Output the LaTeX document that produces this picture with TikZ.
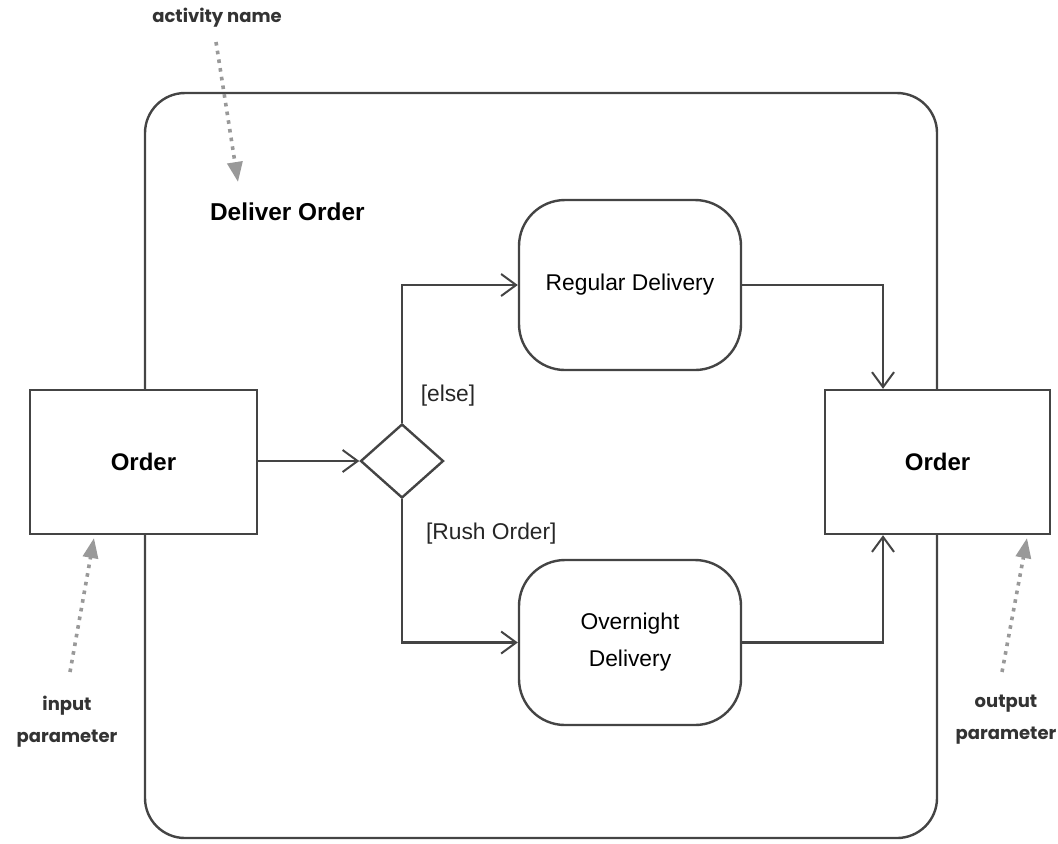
\documentclass[tikz,border=0pt]{standalone}
\usepackage{fontspec}
\setmainfont{Liberation Sans}
\newfontfamily\handfont{Poppins}
\usetikzlibrary{arrows.meta,shapes.geometric}
\definecolor{linec}{HTML}{444444}
\definecolor{notec}{HTML}{999999}
\tikzset{
  conn/.style={draw=linec, line width=1.2pt, -{Straight Barb[length=7.5pt,width=11pt,line width=1pt]}},
  box/.style={draw=linec, line width=1.2pt, fill=white, inner sep=0pt, font=\fontsize{12}{14}\selectfont\bfseries},
  actbox/.style={draw=linec, line width=1.2pt, fill=white, rounded corners=23pt, inner sep=0pt, minimum width=111pt, align=center, font=\fontsize{11.4}{18.5}\selectfont},
  decision/.style={draw=linec, line width=1.2pt, fill=white, diamond, inner sep=0pt, minimum width=41.5pt, minimum height=37pt},
  frame/.style={draw=linec, line width=1.2pt, rounded corners=20pt},
  guard/.style={font=\fontsize{11.4}{14}\selectfont, text=black!85},
  note/.style={font=\handfont\bfseries\fontsize{9}{16}\selectfont, text=black!80, align=center},
  notearrow/.style={draw=notec, line width=1.8pt, dash pattern=on 1.8pt off 2.6pt, -{Triangle[length=10pt,width=7.5pt]}}
}
\begin{document}
\begin{tikzpicture}[x=0.5pt,y=-0.5pt]
\useasboundingbox (0,0) rectangle (1058,843);
% frame
\draw[frame] (145,93) rectangle (937,838);
\node[anchor=west, font=\fontsize{12.2}{14}\selectfont\bfseries] (title) at (203,212) {Deliver Order};
% nodes
\node[box, minimum width=113.5pt, minimum height=72pt] (in) at (143.5,462) {Order};
\node[box, minimum width=112.5pt, minimum height=72pt] (out) at (937.5,462) {Order};
\node[decision] (dec) at (402,461) {};
\node[actbox, minimum height=85pt] (reg) at (630,285) {Regular Delivery};
\node[actbox, minimum height=82.5pt] (ovn) at (630,642.5) {Overnight\\Delivery};
% connectors
\draw[conn] (in.east |- dec.west) -- (dec.west);
\draw[conn] (dec.north) |- (reg.west);
\draw[conn] (dec.south) |- (ovn.west);
\coordinate (rj) at (883,0);
\draw[conn] (reg.east) -| (rj |- out.north);
\draw[conn] (ovn.east) -| (rj |- out.south);
% guards
\node[guard] (g1) at (448,396) {[else]};
\node[guard, anchor=west] (g2) at (419,534) {[Rush Order]};
% notes
\node[note] (n1) at (217,18) {activity name};
\coordinate (n1s) at (216,42);
\coordinate (n1t) at (238,182);
\draw[notearrow] (n1s) -- (n1t);
\node[note] (n2) at (67,722) {input\\parameter};
\coordinate (n2s) at (70,672);
\coordinate (n2t) at (94,538);
\draw[notearrow] (n2s) -- (n2t);
\node[note] (n3) at (1006,720) {output\\parameter};
\coordinate (n3s) at (1002,672);
\coordinate (n3t) at (1027,538);
\draw[notearrow] (n3s) -- (n3t);
\end{tikzpicture}
\end{document}
